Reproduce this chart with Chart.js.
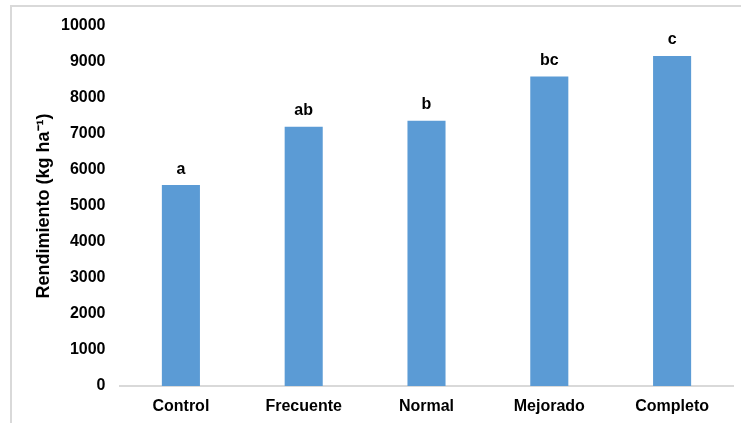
<!DOCTYPE html>
<html>
<head>
<meta charset="utf-8">
<script src="https://cdn.jsdelivr.net/npm/chart.js@4"></script>
<style>
  html, body { margin: 0; padding: 0; background: #fff; }
  #wrap { position: relative; width: 741px; height: 423px; overflow: hidden; }
  #frame { position: absolute; left: 10px; top: 5px; width: 800px; height: 500px;
           border-left: 2px solid #d9d9d9; border-top: 2px solid #d9d9d9; }
  canvas { position: absolute; left: 0; top: 0; }
</style>
</head>
<body>
<div id="wrap">
  <div id="frame"></div>
  <canvas id="chart" width="741" height="423"></canvas>
</div>
<script>
const categories = ["Control", "Frecuente", "Normal", "Mejorado", "Completo"]
const rendimiento = [5580, 7200, 7370, 8600, 9170]
const letras = ["a", "ab", "b", "bc", "c"]

const FONT = "'Liberation Sans', Arial, sans-serif"

const letterPlugin = {
  id: "letras",
  afterDatasetsDraw(chart) {
    const ctx = chart.ctx
    const meta = chart.getDatasetMeta(0)
    ctx.save()
    ctx.font = "bold 16px " + FONT
    ctx.fillStyle = "#000"
    ctx.textAlign = "center"
    ctx.textBaseline = "middle"
    meta.data.forEach((bar, i) => {
      ctx.fillText(letras[i], bar.x, bar.y - 16)
    })
    ctx.restore()
  }
}

const ctx = document.getElementById("chart").getContext("2d")

new Chart(ctx, {
  type: "bar",
  data: {
    labels: categories,
    datasets: [{
      data: rendimiento,
      backgroundColor: "#5b9bd5",
      barPercentage: 0.31,
      categoryPercentage: 1
    }]
  },
  options: {
    responsive: false,
    animation: false,
    layout: { padding: { top: 26, right: 7.5, left: 0, bottom: 0 } },
    plugins: {
      legend: { display: false },
      tooltip: { enabled: false }
    },
    scales: {
      x: {
        grid: { display: false, drawTicks: false },
        border: { display: true, color: "#d9d9d9", width: 2 },
        ticks: { color: "#000", font: { family: FONT, size: 16, weight: "bold" }, padding: 11 },
        afterFit(scale) { scale.height = 37 }
      },
      y: {
        min: 0,
        max: 10000,
        grid: { display: false, drawTicks: false },
        border: { display: false },
        ticks: {
          stepSize: 1000,
          color: "#000",
          font: { family: FONT, size: 16, weight: "bold" },
          padding: 14,
          callback: (v) => String(v)
        },
        title: {
          display: true,
          text: "Rendimiento (kg ha⁻¹)",
          color: "#000",
          font: { family: FONT, size: 18, weight: "bold" },
          padding: { top: 33, bottom: 0 }
        },
        afterFit(scale) { scale.width = 119.5 }
      }
    }
  },
  plugins: [letterPlugin]
})
</script>
</body>
</html>
